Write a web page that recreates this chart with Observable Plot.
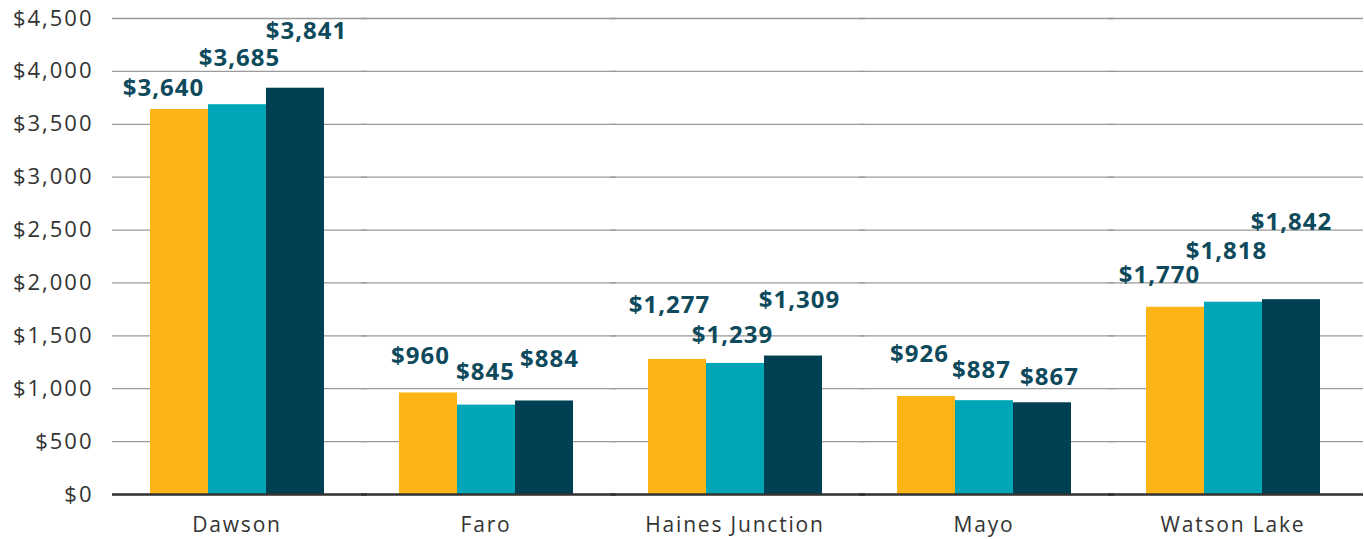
<!DOCTYPE html>
<html>
<head>
<meta charset="utf-8">
<script src="https://cdn.jsdelivr.net/npm/d3@7"></script>
<script src="https://cdn.jsdelivr.net/npm/@observablehq/plot@0.6"></script>
<style>
  html, body { margin: 0; padding: 0; background: #fff; }
  #chart svg { font-family: "Open Sans", Lato, sans-serif; }
</style>
</head>
<body>
<div id="chart"></div>
<script>
const cities = ["Dawson", "Faro", "Haines Junction", "Mayo", "Watson Lake"];
const seriesNames = ["Series 1", "Series 2", "Series 3"];
const series1 = [3640, 960, 1277, 926, 1770];
const series2 = [3685, 845, 1239, 887, 1818];
const series3 = [3841, 884, 1309, 867, 1842];
const yTicks = [0, 500, 1000, 1500, 2000, 2500, 3000, 3500, 4000, 4500];
const colors = ["#FDB515", "#00A5B7", "#004052"];

// label nudges (layout only), per city per series, in pixels
const labelDx = [[-16, 2, 11], [-8, -1, 5], [-8, -3, 6], [-7, -3, 7], [-16, -7, 0]];
const labelDy = [[-21, -46, -57], [-37, -33, -42], [-54, -28, -56], [-42, -30, -25], [-32, -51, -77]];

const seriesValues = [series1, series2, series3];
const data = [];
cities.forEach((c, i) => {
  seriesValues.forEach((vals, j) => {
    data.push({city: c, s: seriesNames[j], value: vals[i], dx: labelDx[i][j], dy: labelDy[i][j]});
  });
});

const fmt = v => "$" + d3.format(",")(v);

const chart = Plot.plot({
  width: 1364,
  height: 539,
  marginTop: 18,
  marginBottom: 45,
  marginLeft: 110,
  marginRight: 6,
  fx: {domain: cities, padding: 0, label: null},
  x: {domain: seriesNames, paddingInner: 0, paddingOuter: 0.64, axis: null},
  y: {domain: [0, 4500], axis: null},
  color: {domain: seriesNames, range: colors},
  marks: [
    Plot.gridY(yTicks, {stroke: "#9a9a9a", strokeOpacity: 1, strokeWidth: 1.3, insetRight: -6}),
    Plot.axisY(yTicks, {tickSize: 0, tickPadding: 19, tickFormat: fmt, fontSize: 22, fill: "#333", label: null, className: "ytick"}),
    Plot.axisFx({anchor: "bottom", tickSize: 0, tickPadding: 23, fontSize: 21, fill: "#333", label: null, className: "fxtick"}),
    Plot.barY(data, {fx: "city", x: "s", y: "value", fill: "s", inset: 0}),
    Plot.ruleY([0], {stroke: "#333", strokeWidth: 2.5, insetRight: -6}),
    ...data.map(d => Plot.text([d], {
      fx: "city", x: "s", y: "value", text: d => fmt(d.value),
      dx: d.dx, dy: d.dy, fill: "#0E4A5C", fontSize: 24, fontWeight: "bold",
      textAnchor: "middle", lineAnchor: "middle", className: "vlabel"
    }))
  ]
});
document.getElementById("chart").appendChild(chart);
d3.select(chart).selectAll(".ytick text").style("letter-spacing", "2px");
d3.select(chart).selectAll(".fxtick text").style("letter-spacing", "1.8px");
d3.select(chart).selectAll(".vlabel text").style("letter-spacing", "1px");
</script>
</body>
</html>
